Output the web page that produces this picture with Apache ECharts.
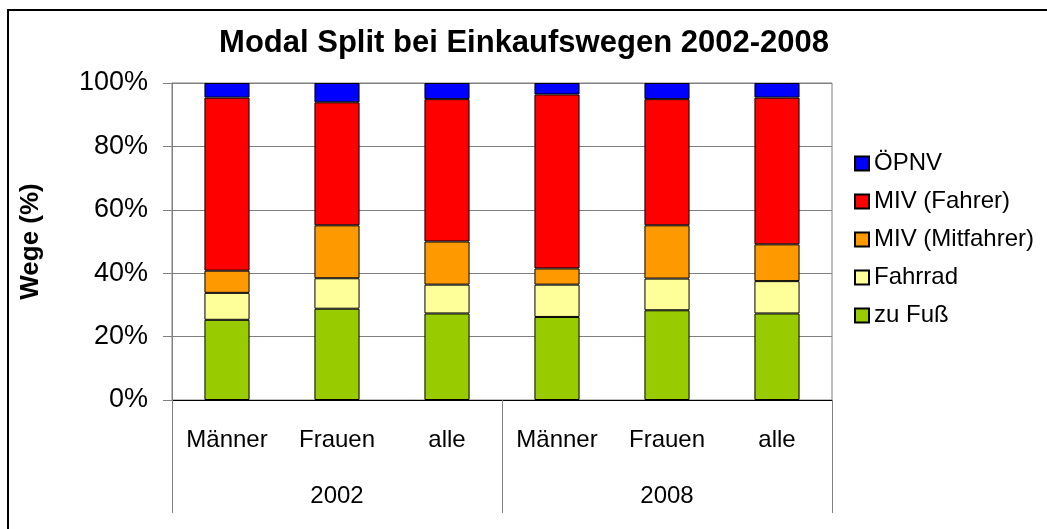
<!DOCTYPE html>
<html>
<head>
    <title>Modal Split bei Einkaufswegen</title>
    <meta charset="utf-8">
    <script src="https://cdn.jsdelivr.net/npm/echarts@6/dist/echarts.min.js"></script>
    <style>
        html, body { margin: 0; padding: 0; background: #fff; }
    </style>
</head>
<body>
    <div id="main" style="width: 1047px;height:529px;"></div>

    <script type="text/javascript">
        var myChart = echarts.init(document.getElementById('main'));

        // categories (two levels: group / year)
        var groups = ['Männer', 'Frauen', 'alle', 'Männer', 'Frauen', 'alle'];
        var years = ['2002', '2008'];

        // shares in percent
        var zuFuss = [25.3, 28.8, 27.3, 26.2, 28.3, 27.3];
        var fahrrad = [8.5, 9.6, 9.1, 10.2, 10.0, 10.2];
        var mivMitfahrer = [7.0, 16.7, 13.6, 5.1, 16.8, 11.6];
        var mivFahrer = [54.6, 38.8, 44.9, 54.9, 39.8, 46.3];
        var oepnv = [4.6, 6.1, 5.1, 3.6, 5.1, 4.6];

        var font = 'Liberation Sans, Arial, sans-serif';

        // helper for one stacked bar series
        function bar(name, data, color) {
            return {
                name: name,
                type: 'bar',
                stack: 'all',
                barWidth: '41%',
                xAxisIndex: 0,
                itemStyle: { color: color, borderColor: '#000', borderWidth: 1 },
                data: data
            };
        }

        var option = {
            animation: false,
            textStyle: { fontFamily: font },
            title: {
                text: 'Modal Split bei Einkaufswegen 2002-2008',
                left: 519,
                textAlign: 'center',
                top: 23,
                textStyle: { fontSize: 31, fontWeight: 'bold', color: '#000', fontFamily: font }
            },
            legend: {
                orient: 'vertical',
                left: 849,
                top: 146,
                itemWidth: 14,
                itemHeight: 14,
                itemGap: 13,
                icon: 'rect',
                textStyle: { fontSize: 24, color: '#000', fontFamily: font, lineHeight: 25 },
                data: ['ÖPNV', 'MIV (Fahrer)', 'MIV (Mitfahrer)', 'Fahrrad', 'zu Fuß']
            },
            graphic: [{
                type: 'rect',
                shape: { x: 8, y: 10, width: 1200, height: 700 },
                style: { fill: 'none', stroke: '#000', lineWidth: 2 },
                silent: true
            }],
            grid: {
                left: 172,
                right: 215,
                top: 83,
                bottom: 129,
                show: true,
                borderColor: '#808080',
                borderWidth: 1
            },
            xAxis: [{
                type: 'category',
                data: groups,
                position: 'bottom',
                axisLine: { lineStyle: { color: '#000', width: 1 } },
                axisTick: { show: false },
                axisLabel: { fontSize: 24, color: '#000', margin: 28, interval: 0, fontFamily: font }
            }, {
                type: 'category',
                data: years,
                position: 'bottom',
                axisLine: { show: false },
                axisTick: { show: true, length: 113, interval: 0, lineStyle: { color: '#808080' } },
                axisLabel: { fontSize: 24, color: '#000', margin: 84, interval: 0, fontFamily: font },
                splitLine: { show: false }
            }],
            yAxis: {
                type: 'value',
                min: 0,
                max: 100,
                interval: 20,
                name: 'Wege (%)',
                nameLocation: 'middle',
                nameGap: 128,
                nameTextStyle: { fontSize: 26, fontWeight: 'bold', color: '#000', fontFamily: font },
                axisLine: { show: true, lineStyle: { color: '#808080' } },
                axisTick: { show: true, length: 9, lineStyle: { color: '#808080' } },
                axisLabel: { formatter: '{value}%', fontSize: 27, color: '#000', margin: 24, fontFamily: font },
                splitLine: { lineStyle: { color: '#808080', width: 1 } }
            },
            series: [
                bar('zu Fuß', zuFuss, '#99CC00'),
                bar('Fahrrad', fahrrad, '#FFFF99'),
                bar('MIV (Mitfahrer)', mivMitfahrer, '#FF9900'),
                bar('MIV (Fahrer)', mivFahrer, '#FF0000'),
                bar('ÖPNV', oepnv, '#0000FF')
            ]
        };

        myChart.setOption(option);
    </script>
</body>
</html>
